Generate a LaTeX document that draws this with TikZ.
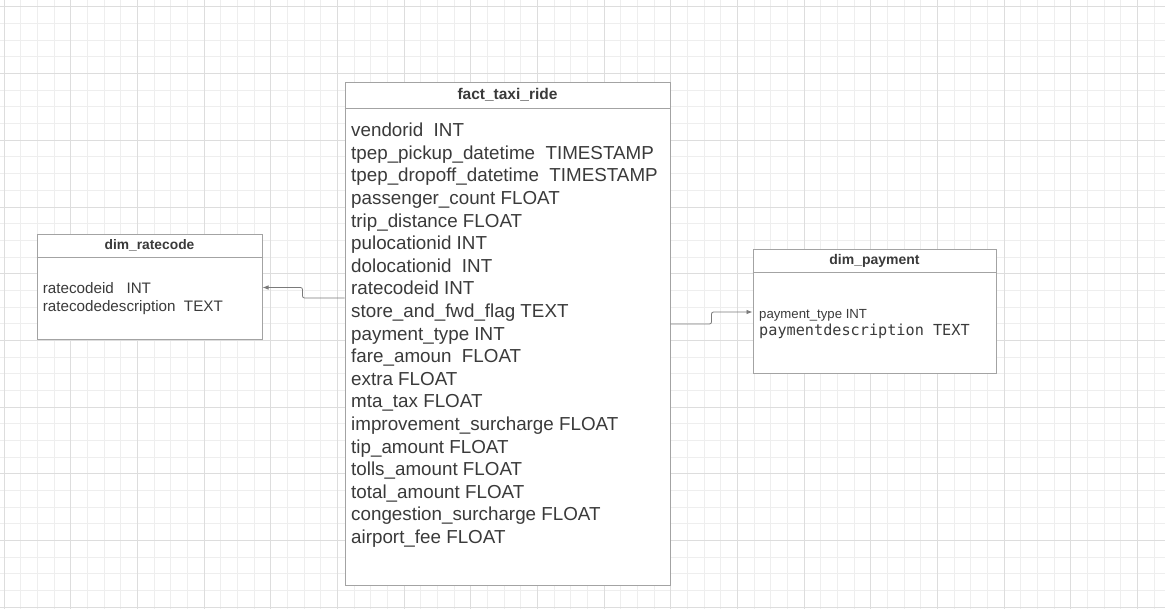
\documentclass[tikz,border=0pt]{standalone}
\usepackage{fontspec}
\setmainfont{Liberation Sans}
\setmonofont{DejaVu Sans Mono}
\usetikzlibrary{arrows.meta,calc}
\definecolor{gridminor}{HTML}{EEEEEE}
\definecolor{gridmajor}{HTML}{DDDDDD}
\definecolor{boxline}{HTML}{A3A3A3}
\definecolor{ink}{HTML}{3A3A3A}
\definecolor{linkgray}{HTML}{7A7A7A}
\begin{document}
\begin{tikzpicture}[x=1pt,y=-1pt,
  tbl/.style={draw=boxline,fill=white,line width=1pt,inner sep=0pt},
  head/.style={anchor=base,inner sep=0pt,text=ink},
  field/.style={anchor=base west,inner sep=0pt,text=ink},
  link/.style={draw=linkgray,line width=0.8pt,rounded corners=2pt,-{Latex[length=6pt,width=4.5pt]}}]
\useasboundingbox[fill=white] (0,0) rectangle (1165,609);
% background grid
\foreach \k in {0,...,69} \draw[gridminor,line width=1pt] ({4+16.667*\k},0) -- ++(0,609);
\foreach \k in {0,...,36} \draw[gridminor,line width=1pt] (0,{7+16.667*\k}) -- ++(1165,0);
\foreach \k in {0,4,...,68} \draw[gridmajor,line width=1pt] ({4+16.667*\k},0) -- ++(0,609);
\foreach \k in {0,4,...,36} \draw[gridmajor,line width=1pt] (0,{7+16.667*\k}) -- ++(1165,0);
% fact table
\node[tbl,minimum width=325pt,minimum height=502pt] (fact) at (507.5,334) {};
\node[head,font=\fontsize{15.5}{18}\bfseries\selectfont] (facttitle) at (507.5,99.5) {fact\_taxi\_ride};
\draw[boxline,line width=1pt] ($(fact.north west)+(0,26)$) -- ($(fact.north east)+(0,26)$);
\foreach \f [count=\i] in {vendorid~~INT, tpep\_pickup\_datetime~~TIMESTAMP,
  tpep\_dropoff\_datetime~~TIMESTAMP, passenger\_count FLOAT, trip\_distance FLOAT,
  pulocationid INT, dolocationid~~INT, ratecodeid INT, store\_and\_fwd\_flag TEXT,
  payment\_type INT, fare\_amoun~~FLOAT, extra FLOAT, mta\_tax FLOAT,
  improvement\_surcharge FLOAT, tip\_amount FLOAT, tolls\_amount FLOAT,
  total\_amount FLOAT, congestion\_surcharge FLOAT, airport\_fee FLOAT}
  \node[field,font=\fontsize{18.8}{22}\selectfont] (f\i) at (351,{136.7+22.6*(\i-1)}) {\f};
% dim_ratecode
\node[tbl,minimum width=225pt,minimum height=105pt] (rate) at (149.5,287.5) {};
\node[head,font=\fontsize{13.8}{16}\bfseries\selectfont] (ratetitle) at (149.5,250) {dim\_ratecode};
\draw[boxline,line width=1pt] ($(rate.north west)+(0,23)$) -- ($(rate.north east)+(0,23)$);
\node[field,font=\fontsize{15.2}{18}\selectfont] (rate1) at (42.7,293.3) {ratecodeid~~~INT};
\node[field,font=\fontsize{15.2}{18}\selectfont] (rate2) at (42.7,311.7) {ratecodedescription~~TEXT};
% dim_payment
\node[tbl,minimum width=243pt,minimum height=124pt] (pay) at (874.5,312) {};
\node[head,font=\fontsize{14}{16}\bfseries\selectfont] (paytitle) at (874.5,265) {dim\_payment};
\draw[boxline,line width=1pt] ($(pay.north west)+(0,23)$) -- ($(pay.north east)+(0,23)$);
\node[field,font=\fontsize{13.2}{16}\selectfont] (pay1) at (759,319) {payment\_type INT};
\node[field,font=\ttfamily\fontsize{15.2}{18}\selectfont] (pay2) at (759,335.7) {paymentdescription TEXT};
% relations
\draw[link] ($(fact.west)+(0,-36)$) -- ++(-42,0) |- (rate.east);
\draw[link] ($(fact.east)+(0,-10)$) -- ++(41,0) |- (pay.west);
\end{tikzpicture}
\end{document}
